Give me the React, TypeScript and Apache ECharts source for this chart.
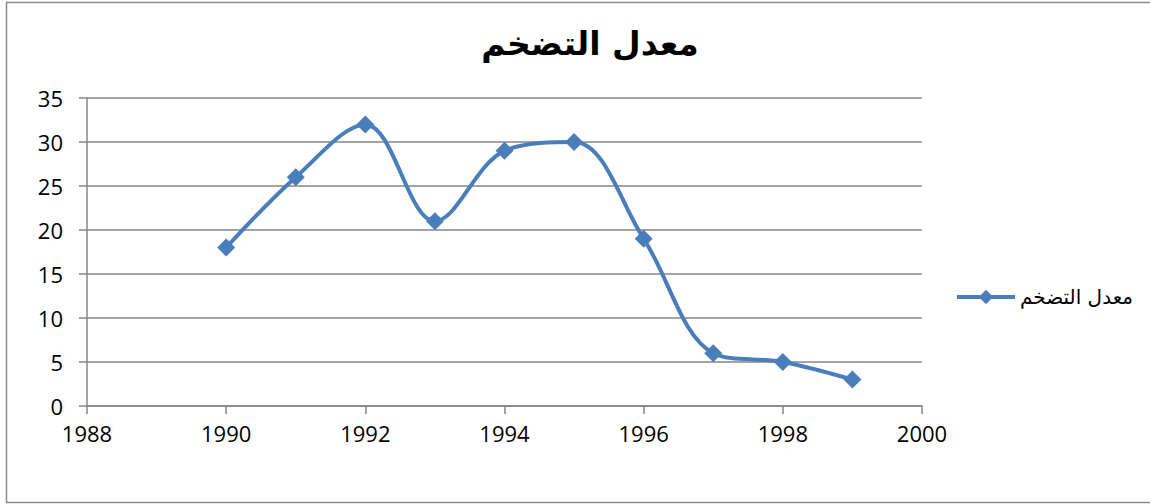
import React, { useEffect, useRef } from "react";
import * as echarts from "echarts";

const titleText = "معدل التضخم";
const seriesName = "معدل التضخم";
const years = [1990, 1991, 1992, 1993, 1994, 1995, 1996, 1997, 1998, 1999];
const values = [18, 26, 32, 21, 29, 30, 19, 6, 5, 3];

const LINE_COLOR = "#4A7EBB";
const GRID_COLOR = "#868686";
const LABEL_FONT = "'Open Sans', 'Noto Sans', sans-serif";

export default function App() {
  const ref = useRef<HTMLDivElement>(null);
  useEffect(() => {
    if (!ref.current) return;
    const chart = echarts.init(ref.current, null, { renderer: "svg" });
    chart.setOption({
      animation: false,
      backgroundColor: "#ffffff",
      title: {
        text: titleText,
        left: 585,
        top: 22,
        textAlign: "center",
        textStyle: {
          fontFamily: "'DejaVu Sans', sans-serif",
          fontWeight: "bold",
          fontSize: 33,
          color: "#000",
        },
      },
      legend: {
        orient: "vertical",
        left: 950,
        top: 282,
        itemWidth: 58,
        itemHeight: 18,
        itemGap: 8,
        lineStyle: { width: 4 },
        data: [seriesName],
        textStyle: {
          fontFamily: "'DejaVu Sans', sans-serif",
          fontSize: 20,
          color: "#000",
        },
      },
      graphic: [
        {
          type: "rect",
          shape: { x: 6.5, y: 2.5, width: 1160, height: 500 },
          style: { fill: "none", stroke: "#8a8a8a", lineWidth: 1.5 },
          silent: true,
          z: -1,
        },
      ],
      grid: { left: 87, right: 228, top: 98, bottom: 98, containLabel: false },
      xAxis: {
        type: "value",
        min: 1988,
        max: 2000,
        interval: 2,
        axisLine: { show: true, onZero: false, lineStyle: { color: GRID_COLOR, width: 1.5 } },
        axisTick: { show: true, length: 8, inside: false, lineStyle: { color: GRID_COLOR, width: 1.5 } },
        splitLine: { show: false },
        axisLabel: {
          fontFamily: LABEL_FONT,
          fontSize: 22,
          color: "#000",
          margin: 16,
          formatter: (v: number) => String(v),
        },
      },
      yAxis: {
        type: "value",
        min: 0,
        max: 35,
        interval: 5,
        axisLine: { show: true, lineStyle: { color: GRID_COLOR, width: 1.5 } },
        axisTick: { show: true, length: 8, lineStyle: { color: GRID_COLOR, width: 1.5 } },
        splitLine: { show: true, lineStyle: { color: GRID_COLOR, width: 1.5 } },
        axisLabel: {
          fontFamily: LABEL_FONT,
          fontSize: 22,
          color: "#000",
          margin: 24,
        },
      },
      series: [
        {
          name: seriesName,
          type: "line",
          data: years.map((y, i) => [y, values[i]]),
          smooth: 0.35,
          symbol: "diamond",
          symbolSize: 18,
          lineStyle: { color: LINE_COLOR, width: 4 },
          itemStyle: { color: LINE_COLOR },
        },
      ],
    });
    return () => chart.dispose();
  }, []);
  return (
    <div
      ref={ref}
      style={{ position: "fixed", left: 0, top: 0, width: 1150, height: 504, background: "#fff" }}
    />
  );
}
